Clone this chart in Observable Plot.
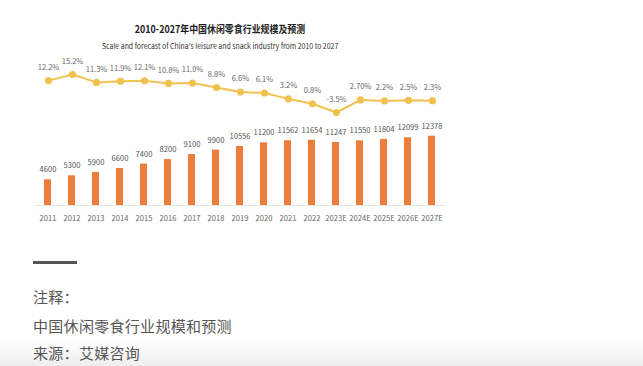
<!DOCTYPE html>
<html>
<head>
<meta charset="utf-8">
<script src="https://cdn.jsdelivr.net/npm/d3@7"></script>
<script src="https://cdn.jsdelivr.net/npm/@observablehq/plot@0.6"></script>
<style>
  html, body { margin: 0; padding: 0; background: #fff; }
  body { width: 643px; height: 366px; position: relative; overflow: hidden;
         font-family: "Noto Sans CJK SC", "Noto Sans", sans-serif; }
  #title { position: absolute; left: 0; width: 440px; top: 22px; text-align: center;
           font-size: 10.5px; font-weight: bold; color: #222; line-height: 14px;
           transform: scaleX(0.85); transform-origin: 220px 0; }
  #subtitle { position: absolute; left: 0; width: 440px; top: 40px; text-align: center;
              font-size: 7.6px; color: #333; line-height: 12px;
              transform: scaleX(0.91); transform-origin: 221px 0; }
  #line { position: absolute; left: 0; top: 55px; }
  #bars { position: absolute; left: 0; top: 120px; }
  #rule { position: absolute; left: 33px; top: 261px; width: 44px; height: 3px; background: #555; }
  .note { position: absolute; left: 33px; font-size: 15px; color: #555; letter-spacing: 0.3px; line-height: 20px; }
  #fade { position: absolute; left: 0; top: 340px; width: 643px; height: 26px;
          background: linear-gradient(#ffffff, #eeeeee); }
</style>
</head>
<body>
<div id="fade"></div>
<div id="title">2010-2027年中国休闲零食行业规模及预测</div>
<div id="subtitle">Scale and forecast of China's leisure and snack industry from 2010 to 2027</div>
<div id="line"></div>
<div id="bars"></div>
<div id="rule"></div>
<div class="note" style="top:287px">注释：</div>
<div class="note" style="top:316px">中国休闲零食行业规模和预测</div>
<div class="note" style="top:343px">来源：艾媒咨询</div>
<script>
const years = ["2011","2012","2013","2014","2015","2016","2017","2018","2019","2020","2021","2022","2023E","2024E","2025E","2026E","2027E"];
const scale = [4600,5300,5900,6600,7400,8200,9100,9900,10556,11200,11562,11654,11247,11550,11804,12099,12378];
const growth = [12.2,15.2,11.3,11.9,12.1,10.8,11.0,8.8,6.6,6.1,3.2,0.8,-3.5,2.7,2.2,2.5,2.3];
const growthLabels = ["12.2%","15.2%","11.3%","11.9%","12.1%","10.8%","11.0%","8.8%","6.6%","6.1%","3.2%","0.8%","-3.5%","2.70%","2.2%","2.5%","2.3%"];

const barData = years.map((y, i) => ({year: y, value: scale[i]}));
const lineData = years.map((y, i) => ({year: y, g: growth[i], label: growthLabels[i]}));

const lineColor = "#F2C250";
const barColor = "#EC7E3C";
const font = "'Noto Sans CJK SC', 'Noto Sans', sans-serif";

const linePlot = Plot.plot({
  width: 643, height: 65,
  marginLeft: 47.5, marginRight: 210.5, marginTop: 19, marginBottom: 8,
  style: {fontFamily: font, background: "transparent", overflow: "visible"},
  x: {type: "point", domain: years, padding: 0, axis: null},
  y: {domain: [-3.5, 15.2], axis: null},
  marks: [
    Plot.line(lineData, {x: "year", y: "g", stroke: lineColor, strokeWidth: 2}),
    Plot.dot(lineData, {x: "year", y: "g", fill: lineColor, r: 3.6}),
    Plot.text(lineData, {x: "year", y: "g", text: "label", dy: -13, fill: "#666", fontSize: 7.5})
  ]
});
document.getElementById("line").appendChild(linePlot);

const barPlot = Plot.plot({
  width: 643, height: 110,
  marginLeft: 35, marginRight: 198, marginTop: 15.7, marginBottom: 25,
  style: {fontFamily: font, background: "transparent", overflow: "visible", color: "#666"},
  x: {type: "band", domain: years, paddingInner: 0.69, paddingOuter: 0.365, tickSize: 0, tickPadding: 10, label: null},
  y: {domain: [0, 12378], axis: null},
  marks: [
    Plot.ruleY([0], {stroke: "#e4e4e4", strokeWidth: 1}),
    Plot.barY(barData, {x: "year", y: "value", fill: barColor}),
    Plot.text(barData, {x: "year", y: "value", text: d => String(d.value), dy: -10, fill: "#555", fontSize: 7.6})
  ]
});
barPlot.querySelectorAll("g[aria-label='x-axis tick label']").forEach(el => el.setAttribute("font-size", "7.6"));
document.getElementById("bars").appendChild(barPlot);
</script>
</body>
</html>
